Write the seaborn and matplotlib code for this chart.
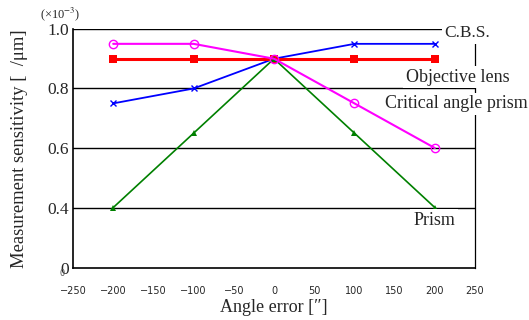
import matplotlib
matplotlib.use('Agg')
import matplotlib.pyplot as plt
import seaborn as sns

# data
angle = [-200, -100, 0, 100, 200]
cbs = [0.75, 0.80, 0.90, 0.95, 0.95]
objective_lens = [0.90, 0.90, 0.90, 0.90, 0.90]
critical_prism = [0.95, 0.95, 0.90, 0.75, 0.60]
prism = [0.40, 0.65, 0.90, 0.65, 0.40]

x_ticks = [-250, -200, -150, -100, -50, 0, 50, 100, 150, 200, 250]
y_ticks = [0.197, 0.4, 0.6, 0.8, 1.0]
y_ticklabels = ['0', '0.4', '0.6', '0.8', '1.0']

sns.set_style('white')
plt.rcParams['font.family'] = ['Liberation Serif', 'DejaVu Serif']
plt.rcParams['mathtext.fontset'] = 'stix'

fig = plt.figure(figsize=(5.29, 3.2), dpi=100, facecolor='white')
ax = fig.add_axes([0.138, 0.1625, 0.760, 0.747])

# horizontal reference lines
for v in [0.4, 0.6, 0.8, 1.0]:
    ax.axhline(v, color='black', lw=1.0, zorder=1)

# series
sns.lineplot(x=angle, y=cbs, ax=ax, color='#0000ff', lw=1.3, marker='x', markersize=4,
             markeredgecolor='#0000ff', markeredgewidth=1.0, zorder=3)
sns.lineplot(x=angle, y=objective_lens, ax=ax, color='#ff0000', lw=2.2, marker='s', markersize=6,
             markeredgecolor='#ff0000', markeredgewidth=0, zorder=3)
sns.lineplot(x=angle, y=critical_prism, ax=ax, color='#ff00ff', lw=1.5, marker='o', markersize=6,
             markerfacecolor='none', markeredgecolor='#ff00ff', markeredgewidth=1.0, zorder=4)
sns.lineplot(x=angle, y=prism, ax=ax, color='#008000', lw=1.2, marker='^', markersize=5,
             markeredgecolor='#008000', markeredgewidth=0, zorder=3)

ax.set_xlim(-250, 250)
ax.set_ylim(0.197, 1.0)
ax.set_xticks(x_ticks)
ax.set_xticklabels([str(t).replace('-', '\u2212') for t in x_ticks],
                   family=['Liberation Sans Narrow', 'DejaVu Sans'], fontsize=7)
ax.set_yticks(y_ticks)
ax.set_yticklabels(y_ticklabels, fontsize=12.5)
ax.tick_params(axis='x', direction='in', length=4, width=0.8, pad=13, color='#444444')
ax.tick_params(axis='y', length=0, pad=3)

for s in ['left', 'bottom', 'right']:
    ax.spines[s].set_color('black')
    ax.spines[s].set_linewidth(1.2)
ax.spines['top'].set_visible(False)
ax.spines['right'].set_linewidth(0.9)

ax.set_xlabel('Angle error [\u2033]', fontsize=13, labelpad=2)
ax.set_ylabel('Measurement sensitivity [  /\u03bcm]', fontsize=13.4, labelpad=14)

# curve labels with white boxes covering the lines
box = dict(facecolor='white', edgecolor='none', pad=2)
ax.text(212, 0.987, 'C.B.S.', fontsize=12.5, va='center', ha='left', bbox=box, clip_on=False, zorder=5)
ax.text(164, 0.838, 'Objective lens', fontsize=13, va='center', ha='left', bbox=box, clip_on=False, zorder=5)
ax.text(138, 0.748, 'Critical angle prism', fontsize=13, va='center', ha='left', bbox=box, clip_on=False, zorder=5)
ax.text(173, 0.357, 'Prism', fontsize=13, va='center', ha='left', bbox=box, clip_on=False, zorder=5)

fig.text(0.075, 0.955, '(\u00d710$^{-3}$)', fontsize=9, ha='left', va='center')
fig.text(0.117, 0.145, '0', fontsize=6, ha='center', va='center',
         family=['Liberation Sans Narrow', 'DejaVu Sans'], color='#555555')

plt.savefig('out.png', dpi=100, facecolor='white')
